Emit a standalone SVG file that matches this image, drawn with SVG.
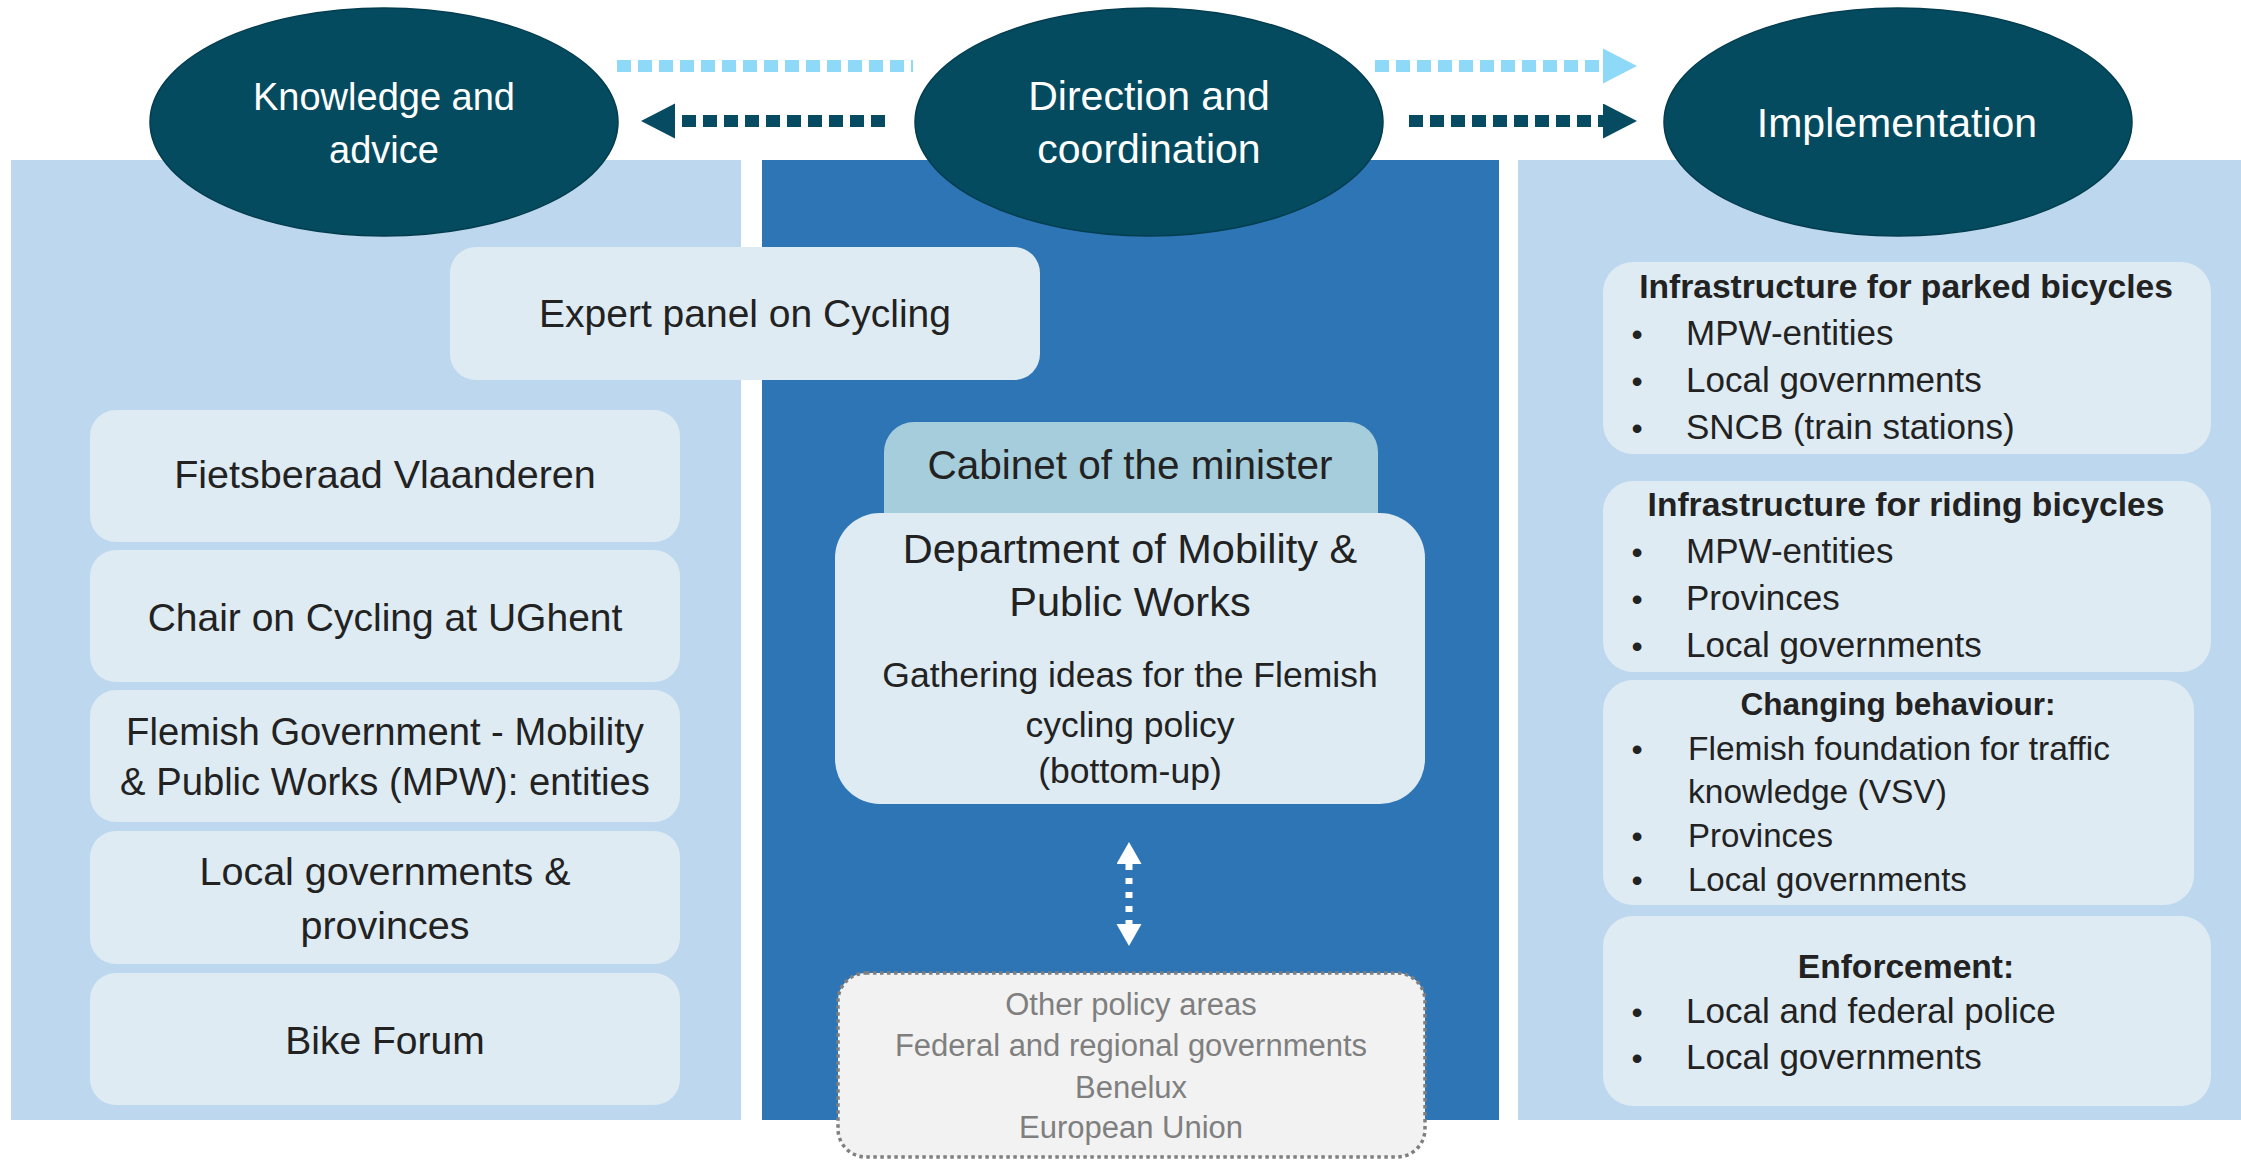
<svg xmlns="http://www.w3.org/2000/svg" width="2241" height="1160" viewBox="0 0 2241 1160">
<defs>
<style>
.panel-light{fill:#BDD7EE}
.panel-dark{fill:#2E75B6}
.oval{fill:#044B60;stroke:#033d4f;stroke-width:1.5}
.box{fill:#DEEBF3}
.cab{fill:#A6CDDB}
.other{fill:#F2F2F2;stroke:#7F7F7F;stroke-width:3.5;stroke-dasharray:3.5 3.5}
.tw{font-family:"Liberation Sans",Arial,sans-serif;fill:#FFFFFF;text-anchor:middle}
.t{font-family:"Liberation Sans",Arial,sans-serif;fill:#222222;text-anchor:middle}
.tl{font-family:"Liberation Sans",Arial,sans-serif;fill:#222222}
.tb{font-family:"Liberation Sans",Arial,sans-serif;fill:#222222;text-anchor:middle;font-weight:bold}
.tg{font-family:"Liberation Sans",Arial,sans-serif;fill:#7F7F7F;text-anchor:middle;font-size:31px}
.bul{font-family:"Liberation Sans",Arial,sans-serif;fill:#222222;text-anchor:middle;font-size:32px}
.c-light{fill:none;stroke:#8FD9F8;stroke-width:12;stroke-dasharray:14 7}
.c-dark{fill:none;stroke:#064B61;stroke-width:12;stroke-dasharray:14 7}
.c-white{fill:none;stroke:#FFFFFF;stroke-width:7;stroke-dasharray:6 8}
</style>
<marker id="ah-light" markerUnits="userSpaceOnUse" markerWidth="36" markerHeight="36" refX="0" refY="17.5" orient="auto" viewBox="0 0 36 36">
<path d="M0,0 L34,17.5 L0,35 Z" fill="#8FD9F8"/>
</marker>
<marker id="ah-dark" markerUnits="userSpaceOnUse" markerWidth="36" markerHeight="36" refX="0" refY="17.5" orient="auto" viewBox="0 0 36 36">
<path d="M0,0 L34,17.5 L0,35 Z" fill="#064B61"/>
</marker>
<marker id="ah-white" markerUnits="userSpaceOnUse" markerWidth="24" markerHeight="26" refX="0" refY="12.5" orient="auto-start-reverse" viewBox="0 0 24 26">
<path d="M0,0 L22,12.5 L0,25 Z" fill="#FFFFFF"/>
</marker>
</defs>

<rect width="2241" height="1160" fill="#FFFFFF"/>

<g id="panels">
<rect class="panel-light" x="11" y="160" width="730" height="960"/>
<rect class="panel-dark" x="762" y="160" width="737" height="960"/>
<rect class="panel-light" x="1518" y="160" width="723" height="960"/>
</g>

<g id="knowledge">
<ellipse class="oval" cx="384" cy="122" rx="234" ry="114"/>
<text class="tw" x="384" y="110" font-size="38">Knowledge and</text>
<text class="tw" x="384" y="163" font-size="38">advice</text>
</g>

<g id="direction">
<ellipse class="oval" cx="1149" cy="122" rx="234" ry="114"/>
<text class="tw" x="1149" y="110" font-size="41">Direction and</text>
<text class="tw" x="1149" y="163" font-size="41">coordination</text>
</g>

<g id="implementation">
<ellipse class="oval" cx="1898" cy="122" rx="234" ry="114"/>
<text class="tw" x="1897" y="137" font-size="41">Implementation</text>
</g>

<g id="connectors">
<path class="c-light" d="M617,66 H913 M1375,66 H1603" marker-end="url(#ah-light)"/>
<path class="c-dark" d="M885,121 H675" marker-end="url(#ah-dark)"/>
<path class="c-dark" d="M1409,121 H1603" marker-end="url(#ah-dark)"/>
<path class="c-white" d="M1129,864 V924" marker-start="url(#ah-white)" marker-end="url(#ah-white)"/>
</g>

<g id="expert-panel">
<rect class="box" x="450" y="247" width="590" height="133" rx="26"/>
<text class="t" x="745" y="327" font-size="39">Expert panel on Cycling</text>
</g>

<g id="fietsberaad">
<rect class="box" x="90" y="410" width="590" height="132" rx="26"/>
<text class="t" x="385" y="488" font-size="39.5">Fietsberaad Vlaanderen</text>
</g>

<g id="chair">
<rect class="box" x="90" y="550" width="590" height="132" rx="26"/>
<text class="t" x="385" y="631" font-size="39">Chair on Cycling at UGhent</text>
</g>

<g id="flemish-gov">
<rect class="box" x="90" y="690" width="590" height="132" rx="26"/>
<text class="t" x="385" y="745" font-size="38.2">Flemish Government - Mobility</text>
<text class="t" x="385" y="795" font-size="38.2">&amp; Public Works (MPW): entities</text>
</g>

<g id="local-gov">
<rect class="box" x="90" y="831" width="590" height="133" rx="26"/>
<text class="t" x="385" y="885" font-size="39.5">Local governments &amp;</text>
<text class="t" x="385" y="939" font-size="39.5">provinces</text>
</g>

<g id="bike-forum">
<rect class="box" x="90" y="973" width="590" height="132" rx="26"/>
<text class="t" x="385" y="1054" font-size="39">Bike Forum</text>
</g>

<g id="cabinet">
<rect class="cab" x="884" y="422" width="494" height="130" rx="30"/>
<text class="t" x="1130" y="479" font-size="40.5">Cabinet of the minister</text>
</g>

<g id="department">
<rect class="box" x="835" y="513" width="590" height="291" rx="45"/>
<text class="t" x="1130" y="563" font-size="41.5">Department of Mobility &amp;</text>
<text class="t" x="1130" y="616" font-size="41.5">Public Works</text>
<text class="t" x="1130" y="687" font-size="35.5">Gathering ideas for the Flemish</text>
<text class="t" x="1130" y="737" font-size="35.5">cycling policy</text>
<text class="t" x="1130" y="783" font-size="35.5">(bottom-up)</text>
</g>

<g id="other-areas">
<rect class="other" x="838" y="973" width="587" height="184" rx="28"/>
<text class="tg" x="1131" y="1015">Other policy areas</text>
<text class="tg" x="1131" y="1056">Federal and regional governments</text>
<text class="tg" x="1131" y="1098">Benelux</text>
<text class="tg" x="1131" y="1138">European Union</text>
</g>

<g id="parked">
<rect class="box" x="1603" y="262" width="608" height="192" rx="30"/>
<text class="tb" x="1906" y="298" font-size="33.6">Infrastructure for parked bicycles</text>
<text class="bul" x="1637" y="345">•</text>
<text class="tl" x="1686" y="345" font-size="35">MPW-entities</text>
<text class="bul" x="1637" y="392">•</text>
<text class="tl" x="1686" y="392" font-size="35">Local governments</text>
<text class="bul" x="1637" y="439">•</text>
<text class="tl" x="1686" y="439" font-size="35">SNCB (train stations)</text>
</g>

<g id="riding">
<rect class="box" x="1603" y="481" width="608" height="191" rx="30"/>
<text class="tb" x="1906" y="516" font-size="33.6">Infrastructure for riding bicycles</text>
<text class="bul" x="1637" y="563">•</text>
<text class="tl" x="1686" y="563" font-size="35">MPW-entities</text>
<text class="bul" x="1637" y="610">•</text>
<text class="tl" x="1686" y="610" font-size="35">Provinces</text>
<text class="bul" x="1637" y="657">•</text>
<text class="tl" x="1686" y="657" font-size="35">Local governments</text>
</g>

<g id="behaviour">
<rect class="box" x="1603" y="680" width="591" height="225" rx="30"/>
<text class="tb" x="1898" y="715" font-size="31.5">Changing behaviour:</text>
<text class="bul" x="1637" y="760">•</text>
<text class="tl" x="1688" y="760" font-size="33.5">Flemish foundation for traffic</text>
<text class="tl" x="1688" y="803" font-size="33.5">knowledge (VSV)</text>
<text class="bul" x="1637" y="847">•</text>
<text class="tl" x="1688" y="847" font-size="33">Provinces</text>
<text class="bul" x="1637" y="891">•</text>
<text class="tl" x="1688" y="891" font-size="33">Local governments</text>
</g>

<g id="enforcement">
<rect class="box" x="1603" y="916" width="608" height="190" rx="30"/>
<text class="tb" x="1906" y="978" font-size="33.6">Enforcement:</text>
<text class="bul" x="1637" y="1023">•</text>
<text class="tl" x="1686" y="1023" font-size="35">Local and federal police</text>
<text class="bul" x="1637" y="1069">•</text>
<text class="tl" x="1686" y="1069" font-size="35">Local governments</text>
</g>
</svg>
